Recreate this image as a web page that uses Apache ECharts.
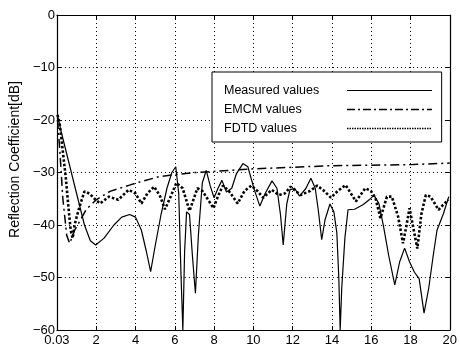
<!DOCTYPE html>
<html><head><meta charset="utf-8">
<script src="https://cdn.jsdelivr.net/npm/echarts@6/dist/echarts.min.js"></script>
<style>html,body{margin:0;padding:0;background:#fff}#c{width:460px;height:349px}</style>
</head><body><div id="c"></div>
<script>
var seriesNames = ['Measured values', 'EMCM values', 'FDTD values'];
var xTickLabels = ['0.03','2','4','6','8','10','12','14','16','18','20'];

var measuredX = [0.03,0.2,0.6,1.0,1.4,1.7,1.97,2.4,2.9,3.3,3.7,4.0,4.3,4.55,4.77,5.0,5.3,5.6,5.85,6.05,6.2,6.32,6.41,6.5,6.6,6.75,6.9,7.05,7.2,7.4,7.6,7.8,8.0,8.2,8.4,8.63,8.9,9.14,9.47,9.72,10.05,10.33,10.6,10.95,11.2,11.38,11.52,11.7,11.86,12.1,12.35,12.68,12.93,13.15,13.3,13.48,13.65,13.9,14.1,14.25,14.35,14.42,14.5,14.66,14.82,15.15,15.56,15.9,16.14,16.39,16.63,16.9,17.2,17.45,17.7,17.95,18.2,18.44,18.69,18.93,19.15,19.35,19.68,19.95];
var measuredY = [-19,-22,-28,-34,-40,-43,-43.8,-42.5,-40,-38.5,-38,-38.5,-41,-45,-48.9,-44,-38,-33,-30,-28.9,-34,-50,-60,-45,-37.5,-38,-46,-53,-42,-32,-29.6,-32.5,-34.8,-33,-31.5,-33.7,-33,-30.2,-28.3,-28.9,-33.3,-36.4,-34,-31.6,-33,-38,-43.8,-36,-33.3,-33,-34.5,-33,-31.1,-33,-37,-42.8,-39,-36,-37.5,-41.5,-50,-60,-52,-42.5,-37.1,-37,-36.2,-35.2,-34.3,-35.9,-40.3,-46,-51.4,-47,-44.4,-47,-49,-50.2,-56.8,-52,-46,-41,-37.8,-34.6];

var emcmX = [0.03,0.15,0.3,0.5,0.65,0.9,1.2,1.5,2.0,2.7,3.7,4.4,5.2,6.0,7.0,8.0,10.0,12.0,14.0,16.0,18.0,20.0];
var emcmY = [-20,-26,-35,-42,-43.5,-41,-39,-37,-35.2,-33.6,-32.4,-31.6,-30.8,-30.4,-30,-29.8,-29.3,-29,-28.7,-28.6,-28.5,-28.2];

var fdtdX = [0.03,0.15,0.3,0.45,0.57,0.7,0.8,0.9,1.0,1.15,1.4,1.65,1.97,2.2,2.65,3.12,3.65,4.0,4.3,4.6,4.95,5.25,5.5,5.8,6.08,6.4,6.75,7.15,7.4,7.75,7.97,8.2,8.45,8.75,9.2,9.55,9.9,10.2,10.5,10.94,11.3,11.6,11.9,12.4,12.9,13.25,13.6,13.95,14.3,14.7,15.22,15.7,15.98,16.22,16.47,16.8,17.05,17.37,17.62,17.8,17.95,18.1,18.35,18.55,18.78,19.02,19.43,19.7,19.93];
var fdtdY = [-19,-21,-26,-31,-36,-41,-42.5,-40,-38.5,-36.5,-33.6,-34,-35.2,-35.9,-34.6,-35.2,-33.3,-34,-35.9,-34,-32.7,-34.5,-37,-34.5,-32,-33,-37.3,-33,-33.5,-35.5,-36.8,-34.5,-32.5,-33.5,-35.9,-33.5,-32.5,-33.5,-34.8,-33.3,-34.3,-34,-32.7,-34.3,-33.5,-32.5,-33.5,-34.8,-33.5,-32.4,-35.5,-33,-33.5,-34.9,-38.7,-34.6,-34.6,-38.4,-43.5,-40,-36.8,-39.7,-44.5,-38,-34.3,-34.6,-37.1,-36,-35.2];

function pairs(xs, ys){ return xs.map(function(x,i){ return [x, ys[i]]; }); }

var FONT = 'Liberation Sans';
var chart = echarts.init(document.getElementById('c'));
var gridLine = {show:true, lineStyle:{color:'#000', width:1, type:[1,3]}};
var axLine = {show:true, onZero:false, lineStyle:{color:'#000', width:1.2}};
chart.setOption({
  animation:false,
  backgroundColor:'#fff',
  grid:{left:52, right:4, top:15, bottom:19, containLabel:false},
  legend:{
    show:true, orient:'vertical', left:212, top:72,
    align:'right',
    padding:[12,9,7,12],
    itemGap:6, itemWidth:85, itemHeight:14,
    borderColor:'#000', borderWidth:1, backgroundColor:'#fff',
    itemStyle:{color:'rgba(0,0,0,0)', borderWidth:0, opacity:0},
    formatter:function(n){ return '{a|' + n + '}'; },
    textStyle:{fontFamily:FONT, fontSize:12.5, color:'#000',
      rich:{a:{fontFamily:FONT, fontSize:12.5, color:'#000', width:118, align:'left'}}},
    data:[
      {name:seriesNames[0], lineStyle:{width:1.1}},
      {name:seriesNames[1], lineStyle:{width:1.3, type:[8,3,2,3]}},
      {name:seriesNames[2], lineStyle:{width:1.3, type:[1.5,1]}}
    ]
  },
  xAxis:[{
    type:'value', min:0, max:20, interval:2,
    axisLine:axLine,
    axisTick:{show:true, inside:true, length:4, lineStyle:{color:'#000'}},
    axisLabel:{fontFamily:FONT, fontSize:13, color:'#000', margin:4,
      formatter:function(v){ return xTickLabels[Math.round(v/2)]; }},
    splitLine:gridLine
  },{
    type:'value', position:'top', min:0, max:20, interval:2,
    axisLine:axLine,
    axisTick:{show:true, inside:true, length:4, lineStyle:{color:'#000'}},
    axisLabel:{show:false}, splitLine:{show:false}
  }],
  yAxis:[{
    type:'value', min:-60, max:0, interval:10,
    name:'Reflection Coefficient[dB]', nameLocation:'middle', nameGap:23,
    nameTextStyle:{fontFamily:FONT, fontSize:14, color:'#000', padding:[0,0,0,26]},
    axisLine:axLine,
    axisTick:{show:true, inside:true, length:4, lineStyle:{color:'#000'}},
    axisLabel:{fontFamily:FONT, fontSize:13, color:'#000', margin:2,
      formatter:function(v){ return String(v).replace('-', '\u2212'); }},
    splitLine:gridLine
  },{
    type:'value', position:'right', min:-60, max:0, interval:10,
    axisLine:axLine,
    axisTick:{show:true, inside:true, length:4, lineStyle:{color:'#000'}},
    axisLabel:{show:false}, splitLine:{show:false}
  }],
  series:[
    {name:seriesNames[0], type:'line', data:pairs(measuredX, measuredY), symbol:'none',
      lineStyle:{color:'#000', width:1.2, type:'solid'}, itemStyle:{color:'#000'}, z:3},
    {name:seriesNames[1], type:'line', data:pairs(emcmX, emcmY), symbol:'none',
      lineStyle:{color:'#000', width:1.5, type:[9,4,2,4]}, itemStyle:{color:'#000'}, z:2},
    {name:seriesNames[2], type:'line', data:pairs(fdtdX, fdtdY), symbol:'none',
      lineStyle:{color:'#000', width:2.6, type:[2.5,2]}, itemStyle:{color:'#000'}, z:2}
  ]
});
</script></body></html>
